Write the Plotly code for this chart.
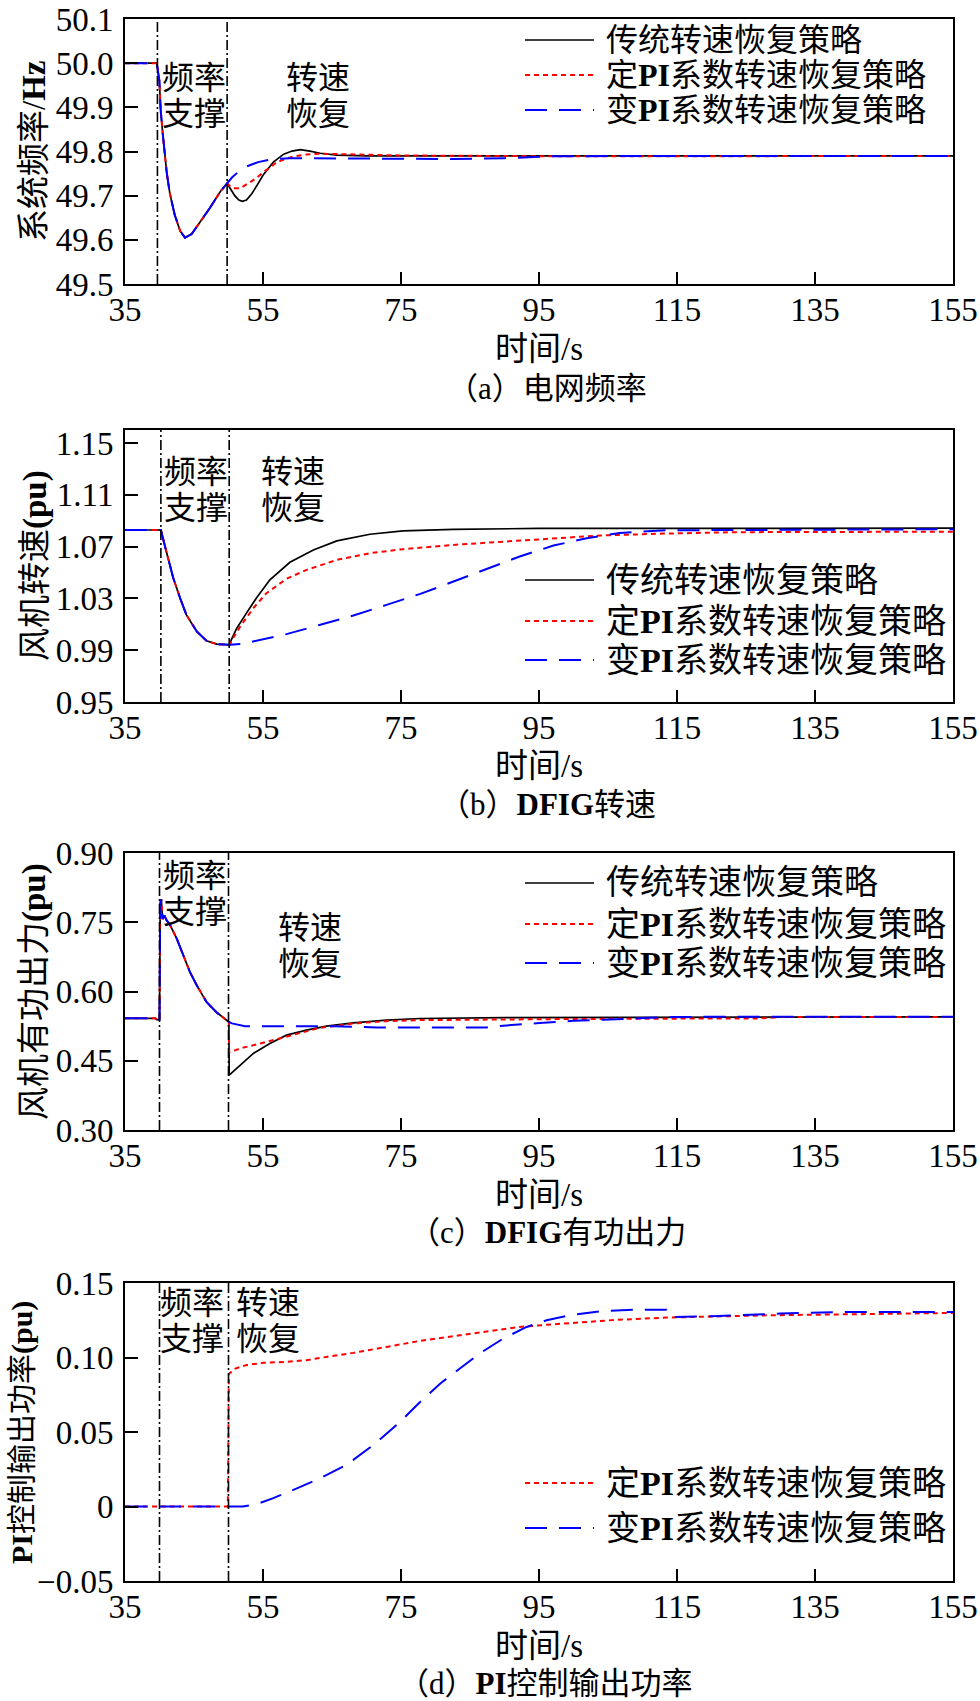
import plotly.graph_objects as go

# ---------------- data ----------------
names = ["传统转速恢复策略", "定<b>PI</b>系数转速恢复策略", "变<b>PI</b>系数转速恢复策略"]

# (a) grid frequency, Hz
a_t_common = [35, 39.6, 39.98, 40.17, 40.46, 40.7, 41.04, 41.5, 42.2, 43.0, 43.7, 44.66, 45.9, 47.3, 48.8, 49.8]
a_f_common = [50.0, 50.0, 49.96, 49.894, 49.842, 49.798, 49.753, 49.705, 49.657, 49.62, 49.605, 49.613, 49.641, 49.672, 49.709, 49.728]
a_t_black = [50.3, 50.9, 51.5, 52.0, 52.6, 53.4, 54.2, 55.0, 56.5, 58.0, 59.2, 60.4, 61.8, 63.3, 65.7, 70, 155]
a_f_black = [49.715, 49.700, 49.690, 49.687, 49.690, 49.705, 49.725, 49.746, 49.776, 49.794, 49.801, 49.804, 49.801, 49.796, 49.792, 49.790, 49.790]
a_t_red = [50.3, 50.8, 51.7, 52.6, 53.6, 55.0, 57.0, 59.4, 61.3, 63.3, 66, 75, 100, 155]
a_f_red = [49.720, 49.717, 49.717, 49.725, 49.735, 49.752, 49.776, 49.789, 49.793, 49.795, 49.794, 49.791, 49.789, 49.790]
a_t_blue = [50.5, 51.5, 52.6, 54.3, 56.5, 58.9, 70, 82.6, 90, 97, 110, 155]
a_f_blue = [49.741, 49.755, 49.766, 49.776, 49.783, 49.785, 49.784, 49.783, 49.785, 49.789, 49.790, 49.790]

# (b) DFIG speed, pu
b_t_common = [35, 40.2, 41.0, 42.0, 43.0, 43.9, 45.4, 46.8, 48.3, 49.5, 50.2]
b_w_common = [1.0828, 1.0828, 1.066, 1.0456, 1.030, 1.0173, 1.0045, 0.9973, 0.9947, 0.9942, 0.9942]
b_t_black = [50.4, 51.2, 52.6, 54.1, 56.0, 58.9, 62.3, 65.7, 70.5, 75.3, 82.6, 95, 155]
b_w_black = [0.998, 1.007, 1.0186, 1.0307, 1.0443, 1.0579, 1.0674, 1.0744, 1.0795, 1.0821, 1.0833, 1.0840, 1.0842]
b_t_red = [50.4, 51.7, 53.6, 55.5, 58.4, 61.3, 65.7, 70.5, 75.3, 82.6, 89.8, 97.0, 103.8, 113, 123, 155]
b_w_red = [0.997, 1.0083, 1.0225, 1.034, 1.0451, 1.052, 1.0597, 1.0649, 1.068, 1.0713, 1.0738, 1.0764, 1.0785, 1.0800, 1.0811, 1.0815]
b_t_blue = [52.1, 55.0, 58.4, 63.3, 68.1, 72.9, 77.8, 82.6, 87.4, 92.2, 97.1, 101.9, 106.7, 110, 113.5, 125, 155]
b_w_blue = [0.995, 0.9986, 1.0024, 1.0096, 1.0168, 1.025, 1.0335, 1.043, 1.0528, 1.0623, 1.0708, 1.0764, 1.0805, 1.0818, 1.0826, 1.0828, 1.0834]

# (c) DFIG active power, pu
c_t_common = [35, 39.4, 39.6, 40.0, 40.1, 40.25, 40.45, 40.7, 41.0, 41.5, 42.5, 43.5, 44.4, 45.4, 46.8, 48.3, 49.7, 50.05]
c_p_common = [0.542, 0.542, 0.539, 0.539, 0.790, 0.800, 0.757, 0.765, 0.755, 0.745, 0.7146, 0.6786, 0.6425, 0.6136, 0.5776, 0.5545, 0.5379, 0.534]
c_t_black = [50.1, 51.7, 53.6, 56.0, 58.4, 61.3, 64.2, 68.1, 72.9, 77.8, 90, 155]
c_p_black = [0.419, 0.4406, 0.4658, 0.4875, 0.5055, 0.5163, 0.525, 0.5322, 0.538, 0.5415, 0.5435, 0.545]
c_t_red = [50.1, 51.7, 54.6, 57.5, 60.4, 63.3, 68.1, 72.9, 77.8, 100, 127, 130, 155]
c_p_red = [0.468, 0.4767, 0.4875, 0.4983, 0.5105, 0.5214, 0.5307, 0.5358, 0.538, 0.5405, 0.5418, 0.5445, 0.545]
c_t_blue = [50.5, 52.4, 65.2, 71.5, 87.4, 90.3, 95.1, 100, 104.3, 107, 110, 113.9, 155]
c_p_blue = [0.531, 0.525, 0.525, 0.5222, 0.5222, 0.5265, 0.5316, 0.5366, 0.5388, 0.540, 0.5424, 0.545, 0.5453]

# (d) PI control output power, pu
d_t_red = [35, 49.9, 50.05, 51.0, 52.6, 55.0, 58.4, 61.3, 64.2, 68.1, 72.9, 77.8, 82.6, 87.4, 92.2, 97.1, 101.9, 106, 113.5, 128, 155]
d_p_red = [0, 0, 0.089, 0.0926, 0.0949, 0.0964, 0.0971, 0.0982, 0.1004, 0.1031, 0.1071, 0.1112, 0.1143, 0.1176, 0.1205, 0.1223, 0.1238, 0.1252, 0.1268, 0.1283, 0.1299]
d_t_blue = [35, 52.1, 54.1, 56.5, 59.4, 63.3, 67.1, 71, 74.9, 77.8, 80.7, 83.6, 86.4, 89.8, 93.2, 96.1, 99.4, 104.3, 109.2, 113.5, 114.2, 120, 130, 140, 155]
d_p_blue = [0, 0, 0.0016, 0.0056, 0.0112, 0.019, 0.0279, 0.0413, 0.0569, 0.0703, 0.0826, 0.0926, 0.1027, 0.1127, 0.1205, 0.125, 0.1283, 0.1312, 0.1321, 0.1321, 0.1272, 0.1277, 0.1295, 0.1306, 0.1306]

# stage boundaries (s)
a_marks = [39.7, 49.8]
b_marks = [40.2, 50.1]
c_marks = [40.0, 50.0]
d_marks = [40.0, 50.0]

# axes / labels
x_ticks = [35, 55, 75, 95, 115, 135, 155]
a_yticks = [49.5, 49.6, 49.7, 49.8, 49.9, 50.0, 50.1]
a_ylabels = ["49.5", "49.6", "49.7", "49.8", "49.9", "50.0", "50.1"]
b_yticks = [0.95, 0.99, 1.03, 1.07, 1.11, 1.15]
b_ylabels = ["0.95", "0.99", "1.03", "1.07", "1.11", "1.15"]
c_yticks = [0.30, 0.45, 0.60, 0.75, 0.90]
c_ylabels = ["0.30", "0.45", "0.60", "0.75", "0.90"]
d_yticks = [-0.05, 0, 0.05, 0.10, 0.15]
d_ylabels = ["\u22120.05", "0", "0.05", "0.10", "0.15"]

x_title = "时间/s"
y_titles = ["系统频率/<b>Hz</b>", "风机转速<b>(pu)</b>", "风机有功出力<b>(pu)</b>", "<b>PI</b>控制输出功率<b>(pu)</b>"]
captions = ["（a）电网频率", "（b）<b>DFIG</b>转速", "（c）<b>DFIG</b>有功出力", "（d）<b>PI</b>控制输出功率"]
stage1 = ["频率", "支撑"]
stage2 = ["转速", "恢复"]

# ---------------- layout helpers ----------------
W, H = 980, 1701
FONT = "Liberation Serif, 'Noto Sans CJK SC', serif"


def px(p):
    return p / W


def py(p):
    return 1 - p / H


X_L, X_R = 125, 953
panel_px = [(19, 284), (430, 702), (853, 1130), (1283, 1581)]
yranges = [[49.5, 50.1], [0.95, 1.16], [0.30, 0.90], [-0.05, 0.15]]
styles = [
    dict(color="black", width=1.7),
    dict(color="#ff0000", width=2, dash="5px,4px"),
    dict(color="#0000ff", width=2, dash="22px,12px"),
]

fig = go.Figure()

panel_series = [
    [(a_t_common + a_t_black, a_f_common + a_f_black, 0),
     (a_t_common + a_t_red, a_f_common + a_f_red, 1),
     (a_t_common + a_t_blue, a_f_common + a_f_blue, 2)],
    [(b_t_common + b_t_black, b_w_common + b_w_black, 0),
     (b_t_common + b_t_red, b_w_common + b_w_red, 1),
     (b_t_common + b_t_blue, b_w_common + b_w_blue, 2)],
    [(c_t_common + c_t_black, c_p_common + c_p_black, 0),
     (c_t_common + c_t_red, c_p_common + c_p_red, 1),
     (c_t_common + c_t_blue, c_p_common + c_p_blue, 2)],
    [(d_t_red, d_p_red, 1),
     (d_t_blue, d_p_blue, 2)],
]

# legend rows (page px)
legend_rows = [[40, 75, 110], [580, 621, 660], [883, 924, 963], [1483, 1528]]
legend_font = [32, 34, 34, 34]
LEG_X0, LEG_X1, LEG_TX = 525, 594, 604

for i, series in enumerate(panel_series):
    sfx = "" if i == 0 else str(i + 1)
    for (t, v, k) in series:
        fig.add_trace(go.Scatter(
            x=t, y=v, mode="lines", name=names[k],
            line=styles[k], xaxis="x" + sfx, yaxis="y" + sfx,
            showlegend=False,
        ))

ytick_sets = [(a_yticks, a_ylabels), (b_yticks, b_ylabels), (c_yticks, c_ylabels), (d_yticks, d_ylabels)]
marks = [a_marks, b_marks, c_marks, d_marks]

layout = dict(
    template="none",
    width=W, height=H,
    margin=dict(l=0, r=0, t=0, b=0, pad=0),
    paper_bgcolor="white", plot_bgcolor="white",
    font=dict(family=FONT, color="black", size=32),
    showlegend=False,
)

shapes = []
annotations = []
for i in range(4):
    sfx = "" if i == 0 else str(i + 1)
    top, bot = panel_px[i]
    layout["xaxis" + sfx] = dict(
        domain=[px(X_L), px(X_R)], range=[35, 155], anchor="y" + sfx,
        tickvals=x_ticks, ticktext=[str(v) for v in x_ticks],
        ticks="inside", ticklen=12, tickwidth=1.5, tickcolor="black",
        showline=True, linewidth=2, linecolor="black", mirror=True,
        showgrid=False, zeroline=False, automargin=False,
        ticklabelstandoff=-5, ticklabeloverflow="allow",
        tickfont=dict(family="Liberation Serif", size=33, color="black"),
    )
    tv, tt = ytick_sets[i]
    layout["yaxis" + sfx] = dict(
        domain=[py(bot), py(top)], range=yranges[i], anchor="x" + sfx,
        tickvals=tv, ticktext=tt,
        ticks="inside", ticklen=13, tickwidth=1.5, tickcolor="black",
        showline=True, linewidth=2, linecolor="black", mirror=True,
        showgrid=False, zeroline=False, automargin=False,
        ticklabelstandoff=3, ticklabeloverflow="allow",
        tickfont=dict(family="Liberation Serif", size=33, color="black"),
    )
    for m in marks[i]:
        shapes.append(dict(
            type="line", xref="x" + sfx, yref="y" + sfx + " domain",
            x0=m, x1=m, y0=0, y1=1,
            line=dict(color="black", width=1.6, dash="10px,3px,2px,3px"),
        ))
    # legend (line samples + labels)
    ks = [k for (_, _, k) in panel_series[i]]
    for row_y, k in zip(legend_rows[i], ks):
        shapes.append(dict(type="line", xref="paper", yref="paper",
                           x0=px(LEG_X0), x1=px(LEG_X1), y0=py(row_y), y1=py(row_y),
                           line=styles[k]))
        annotations.append(dict(text=names[k], xref="paper", yref="paper",
                                x=px(LEG_TX), y=py(row_y), xanchor="left", yanchor="middle",
                                showarrow=False, font=dict(family=FONT, size=legend_font[i])))
    # axis titles and caption
    annotations.append(dict(text=x_title, xref="paper", yref="paper",
                            x=px(539), y=py([349, 766, 1195, 1646][i]),
                            xanchor="center", yanchor="middle", showarrow=False,
                            font=dict(family=FONT, size=33)))
    annotations.append(dict(text=captions[i], xref="paper", yref="paper",
                            x=px([547, 547, 547, 545][i]), y=py([388, 804, 1232, 1683][i]),
                            xanchor="center", yanchor="middle", showarrow=False,
                            font=dict(family=FONT, size=31)))
    annotations.append(dict(text=y_titles[i], xref="paper", yref="paper",
                            x=px([34, 36, 34, 22][i]), y=py([151, 566, 992, 1433][i]),
                            xanchor="center", yanchor="middle", showarrow=False,
                            textangle=-90,
                            font=dict(family=FONT, size=[33, 33, 33, 30][i])))

stage_pos = [
    ((194, 78, 114), (318, 78, 114)),
    ((196, 472, 508), (293, 472, 508)),
    ((195, 876, 912), (310, 928, 964)),
    ((192, 1303, 1339), (268, 1303, 1339)),
]
for (s1, s2) in stage_pos:
    for txt, (x, y1, y2) in ((stage1, s1), (stage2, s2)):
        annotations.append(dict(text=txt[0], xref="paper", yref="paper", x=px(x), y=py(y1),
                                xanchor="center", yanchor="middle", showarrow=False,
                                font=dict(family=FONT, size=32)))
        annotations.append(dict(text=txt[1], xref="paper", yref="paper", x=px(x), y=py(y2),
                                xanchor="center", yanchor="middle", showarrow=False,
                                font=dict(family=FONT, size=32)))

layout["shapes"] = shapes
layout["annotations"] = annotations
fig.update_layout(**layout)

fig.write_html(
    "out.html",
    config={"displayModeBar": False},
    post_script="document.body.style.margin='0';document.body.style.overflow='hidden';",
)
